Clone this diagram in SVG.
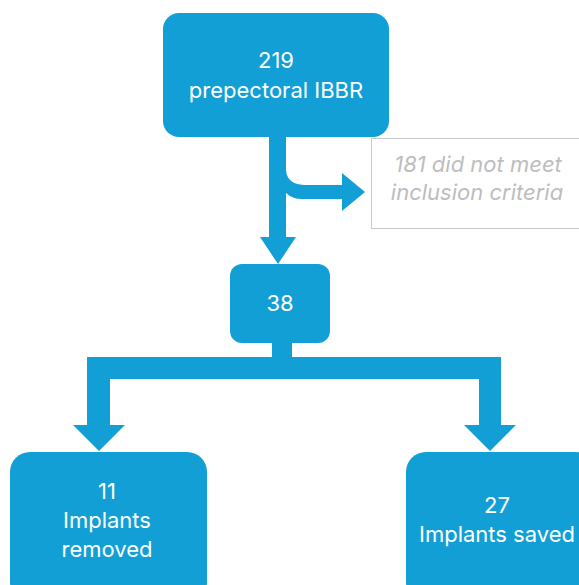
<svg xmlns="http://www.w3.org/2000/svg" width="579" height="585" viewBox="0 0 579 585">
<style>
.box{fill:#129FD6}
.conn{fill:#129FD6}
.t{font-family:Inter,"Liberation Sans",sans-serif;font-size:22px;fill:#ffffff;text-anchor:middle}
.g{font-family:Inter,"Liberation Sans",sans-serif;font-size:22px;fill:#bdbdbd;font-style:italic;text-anchor:middle}
</style>
<rect width="579" height="585" fill="#ffffff"/>
<g id="connectors">
<path class="conn" d="M269,136 L286,136 L286,237 L296,237 L278,264 L260,237 L269,237 Z"/>
<path class="conn" d="M286,170 Q287,185 306,185 L342,185 L342,173 L365,192 L342,211 L342,199 L302,199 Q292,199 286,193 Z"/>
<path class="conn" d="M272,342 L292,342 L292,357 L501,357 L501,425 L516,425 L490,451 L464,425 L479,425 L479,379 L110,379 L110,425 L125,425 L99,451 L73,425 L87,425 L87,357 L272,357 Z"/>
</g>
<g id="node-219">
<rect class="box" x="163" y="13" width="226" height="124" rx="16"/>
<text class="t" x="276" y="68">219</text>
<text class="t" x="276" y="98">prepectoral IBBR</text>
</g>
<g id="node-181">
<rect x="371.5" y="138.5" width="220" height="90" fill="#ffffff" stroke="#c8c8c8" stroke-width="1"/>
<text class="g" x="478" y="172">181 did not meet</text>
<text class="g" x="477" y="200">inclusion criteria</text>
</g>
<g id="node-38">
<rect class="box" x="230" y="264" width="100" height="79" rx="12"/>
<text class="t" x="280" y="311">38</text>
</g>
<g id="node-11">
<rect class="box" x="10" y="452" width="197" height="150" rx="20"/>
<text class="t" x="107" y="499">11</text>
<text class="t" x="107" y="528">Implants</text>
<text class="t" x="107" y="557">removed</text>
</g>
<g id="node-27">
<rect class="box" x="406" y="452" width="190" height="150" rx="20"/>
<text class="t" x="497" y="513">27</text>
<text class="t" x="497" y="542">Implants saved</text>
</g>
</svg>
